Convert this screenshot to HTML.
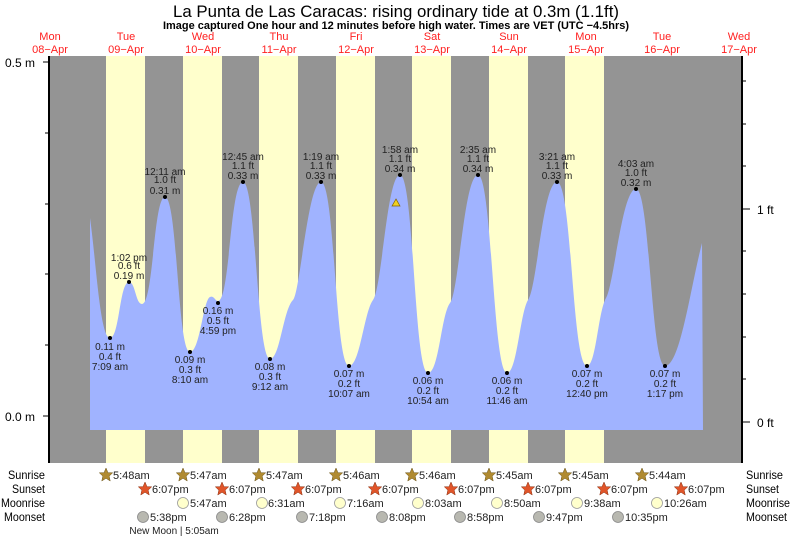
<!DOCTYPE html>
<html><head><meta charset="utf-8"><style>
body{margin:0;background:#fff;}
svg{display:block;font-family:"Liberation Sans",sans-serif;}
</style></head><body>
<svg width="793" height="537" viewBox="0 0 793 537" xmlns="http://www.w3.org/2000/svg">
<text x="173" y="17" font-size="16.5" textLength="446" lengthAdjust="spacingAndGlyphs" fill="#000">La Punta de Las Caracas: rising  ordinary tide at 0.3m (1.1ft)</text>
<text x="163" y="29" font-size="11" font-weight="bold" textLength="466" lengthAdjust="spacingAndGlyphs" fill="#000">Image captured One hour and 12 minutes before high water. Times are VET (UTC −4.5hrs)</text>
<g fill="#ff2020" font-size="11" text-anchor="middle">
<text x="50" y="40">Mon</text><text x="50" y="53">08−Apr</text>
<text x="126" y="40">Tue</text><text x="126" y="53">09−Apr</text>
<text x="203" y="40">Wed</text><text x="203" y="53">10−Apr</text>
<text x="279" y="40">Thu</text><text x="279" y="53">11−Apr</text>
<text x="356" y="40">Fri</text><text x="356" y="53">12−Apr</text>
<text x="432" y="40">Sat</text><text x="432" y="53">13−Apr</text>
<text x="509" y="40">Sun</text><text x="509" y="53">14−Apr</text>
<text x="586" y="40">Mon</text><text x="586" y="53">15−Apr</text>
<text x="662" y="40">Tue</text><text x="662" y="53">16−Apr</text>
<text x="739" y="40">Wed</text><text x="739" y="53">17−Apr</text>
</g>
<rect x="50" y="56" width="692" height="407" fill="#949494"/>
<g fill="#ffffcc">
<rect x="106" y="56" width="39" height="407"/>
<rect x="183" y="56" width="39" height="407"/>
<rect x="259" y="56" width="39" height="407"/>
<rect x="336" y="56" width="39" height="407"/>
<rect x="412" y="56" width="39" height="407"/>
<rect x="489" y="56" width="39" height="407"/>
<rect x="565" y="56" width="39" height="407"/>
</g>
<path fill="#a0b3ff" d="M90,430 L90,218 C96,260 100,338 110,338 C119.5,338 119.5,282 129,282 C135.5,282 135.5,304 142,304 C153.5,304 153.5,197 165,197 C177.5,197 177.5,352 190,352 C200,352 203,300 210,297 C214,295 215,301 218,301 C230,301 230,182 243,182 C256,182 257,359 270,359 C280,359 283,310 293,300 C300,293 308,182 321,182 C335,182 335,366 349,366 C360,366 364,312 373,300 C382,288 387,175 400,175 C414,175 414,373 428,373 C439,373 441,315 450,303 C459,292 464,175 478,175 C492,175 493,373 507,373 C517,373 520,313 528,300 C537,288 543,182 557,182 C572,182 572,366 587,366 C596,366 598,312 606,298 C614,285 622,189 636,189 C650,189 651,366 665,366 C680,366 690,290 702,243 L703,430 Z"/>
<polygon points="396,199 392,206 400,206" fill="#f0d020" stroke="#806000" stroke-width="0.7"/>
<line x1="49" y1="56" x2="49" y2="463" stroke="#000" stroke-width="2"/>
<line x1="742" y1="56" x2="742" y2="463" stroke="#000" stroke-width="2"/>
<g stroke="#000" stroke-width="1">
<line x1="43" y1="62" x2="49" y2="62"/><line x1="45" y1="133" x2="49" y2="133"/><line x1="45" y1="204" x2="49" y2="204"/><line x1="45" y1="274" x2="49" y2="274"/><line x1="45" y1="345" x2="49" y2="345"/><line x1="43" y1="416" x2="49" y2="416"/>
<line x1="742" y1="422" x2="750" y2="422"/><line x1="742" y1="379" x2="746" y2="379"/><line x1="742" y1="337" x2="746" y2="337"/><line x1="742" y1="294" x2="746" y2="294"/><line x1="742" y1="251" x2="746" y2="251"/><line x1="742" y1="209" x2="750" y2="209"/><line x1="742" y1="166" x2="746" y2="166"/><line x1="742" y1="124" x2="746" y2="124"/><line x1="742" y1="81" x2="746" y2="81"/>
</g>
<g font-size="12" fill="#000">
<text x="5" y="67">0.5 m</text><text x="5" y="421">0.0 m</text>
<text x="757" y="214">1 ft</text><text x="757" y="427">0 ft</text>
</g>
<g fill="#000">
<circle cx="110" cy="338" r="2"/><circle cx="129" cy="282" r="2"/><circle cx="165" cy="197" r="2"/><circle cx="190" cy="352" r="2"/><circle cx="218" cy="303" r="2"/><circle cx="243" cy="182" r="2"/><circle cx="270" cy="359" r="2"/><circle cx="321" cy="182" r="2"/><circle cx="349" cy="366" r="2"/><circle cx="400" cy="175" r="2"/><circle cx="428" cy="373" r="2"/><circle cx="478" cy="175" r="2"/><circle cx="507" cy="373" r="2"/><circle cx="557" cy="182" r="2"/><circle cx="587" cy="366" r="2"/><circle cx="636" cy="189" r="2"/><circle cx="665" cy="366" r="2"/>
</g>
<g font-size="10" fill="#222" text-anchor="middle">
<text x="110" y="350">0.11 m</text><text x="110" y="360">0.4 ft</text><text x="110" y="370">7:09 am</text>
<text x="129" y="261">1:02 pm</text><text x="129" y="269">0.6 ft</text><text x="129" y="279">0.19 m</text>
<text x="165" y="175">12:11 am</text><text x="165" y="183">1.0 ft</text><text x="165" y="194">0.31 m</text>
<text x="190" y="363">0.09 m</text><text x="190" y="373">0.3 ft</text><text x="190" y="383">8:10 am</text>
<text x="218" y="314">0.16 m</text><text x="218" y="324">0.5 ft</text><text x="218" y="334">4:59 pm</text>
<text x="243" y="160">12:45 am</text><text x="243" y="169">1.1 ft</text><text x="243" y="179">0.33 m</text>
<text x="270" y="370">0.08 m</text><text x="270" y="380">0.3 ft</text><text x="270" y="390">9:12 am</text>
<text x="321" y="160">1:19 am</text><text x="321" y="169">1.1 ft</text><text x="321" y="179">0.33 m</text>
<text x="349" y="377">0.07 m</text><text x="349" y="387">0.2 ft</text><text x="349" y="397">10:07 am</text>
<text x="400" y="153">1:58 am</text><text x="400" y="162">1.1 ft</text><text x="400" y="172">0.34 m</text>
<text x="428" y="384">0.06 m</text><text x="428" y="394">0.2 ft</text><text x="428" y="404">10:54 am</text>
<text x="478" y="153">2:35 am</text><text x="478" y="162">1.1 ft</text><text x="478" y="172">0.34 m</text>
<text x="507" y="384">0.06 m</text><text x="507" y="394">0.2 ft</text><text x="507" y="404">11:46 am</text>
<text x="557" y="160">3:21 am</text><text x="557" y="169">1.1 ft</text><text x="557" y="179">0.33 m</text>
<text x="587" y="377">0.07 m</text><text x="587" y="387">0.2 ft</text><text x="587" y="397">12:40 pm</text>
<text x="636" y="167">4:03 am</text><text x="636" y="176">1.0 ft</text><text x="636" y="186">0.32 m</text>
<text x="665" y="377">0.07 m</text><text x="665" y="387">0.2 ft</text><text x="665" y="397">1:17 pm</text>
</g>
<g font-size="12" fill="#000" lengthAdjust="spacingAndGlyphs">
<text x="8" y="479" textLength="37" lengthAdjust="spacingAndGlyphs">Sunrise</text><text x="12" y="493" textLength="33" lengthAdjust="spacingAndGlyphs">Sunset</text><text x="1" y="507" textLength="44" lengthAdjust="spacingAndGlyphs">Moonrise</text><text x="4" y="521" textLength="41" lengthAdjust="spacingAndGlyphs">Moonset</text>
<text x="746" y="479" textLength="37" lengthAdjust="spacingAndGlyphs">Sunrise</text><text x="746" y="493" textLength="33" lengthAdjust="spacingAndGlyphs">Sunset</text><text x="746" y="507" textLength="44" lengthAdjust="spacingAndGlyphs">Moonrise</text><text x="746" y="521" textLength="41" lengthAdjust="spacingAndGlyphs">Moonset</text>
</g>
<defs>
<polygon id="st" points="0,-7 2,-2.3 6.7,-2.2 3.2,1.1 4.2,6 0,3.3 -4.2,6 -3.2,1.1 -6.7,-2.2 -2,-2.3"/>
</defs>
<g fill="#b08a30" stroke="#6a5418" stroke-width="0.5">
<use href="#st" x="106" y="475"/><use href="#st" x="183" y="475"/><use href="#st" x="259" y="475"/><use href="#st" x="336" y="475"/><use href="#st" x="412" y="475"/><use href="#st" x="489" y="475"/><use href="#st" x="565" y="475"/><use href="#st" x="642" y="475"/>
</g>
<g fill="#e0552a" stroke="#8a3010" stroke-width="0.5">
<use href="#st" x="145" y="489"/><use href="#st" x="222" y="489"/><use href="#st" x="298" y="489"/><use href="#st" x="375" y="489"/><use href="#st" x="451" y="489"/><use href="#st" x="528" y="489"/><use href="#st" x="604" y="489"/><use href="#st" x="681" y="489"/>
</g>
<g font-size="11" fill="#222">
<text x="113" y="479">5:48am</text><text x="190" y="479">5:47am</text><text x="266" y="479">5:47am</text><text x="343" y="479">5:46am</text><text x="419" y="479">5:46am</text><text x="496" y="479">5:45am</text><text x="572" y="479">5:45am</text><text x="649" y="479">5:44am</text>
<text x="152" y="493">6:07pm</text><text x="229" y="493">6:07pm</text><text x="305" y="493">6:07pm</text><text x="382" y="493">6:07pm</text><text x="458" y="493">6:07pm</text><text x="535" y="493">6:07pm</text><text x="611" y="493">6:07pm</text><text x="688" y="493">6:07pm</text>
</g>
<g fill="#ffffcc" stroke="#999" stroke-width="0.8">
<circle cx="183" cy="503" r="5.5"/><circle cx="262" cy="503" r="5.5"/><circle cx="340" cy="503" r="5.5"/><circle cx="418" cy="503" r="5.5"/><circle cx="497" cy="503" r="5.5"/><circle cx="577" cy="503" r="5.5"/><circle cx="657" cy="503" r="5.5"/>
</g>
<g fill="#b8b8b0" stroke="#888" stroke-width="0.8">
<circle cx="143" cy="517" r="5.5"/><circle cx="222" cy="517" r="5.5"/><circle cx="302" cy="517" r="5.5"/><circle cx="382" cy="517" r="5.5"/><circle cx="460" cy="517" r="5.5"/><circle cx="539" cy="517" r="5.5"/><circle cx="618" cy="517" r="5.5"/>
</g>
<g font-size="11" fill="#222">
<text x="190" y="507">5:47am</text><text x="268" y="507">6:31am</text><text x="347" y="507">7:16am</text><text x="425" y="507">8:03am</text><text x="504" y="507">8:50am</text><text x="584" y="507">9:38am</text><text x="664" y="507">10:26am</text>
<text x="150" y="521">5:38pm</text><text x="229" y="521">6:28pm</text><text x="309" y="521">7:18pm</text><text x="389" y="521">8:08pm</text><text x="467" y="521">8:58pm</text><text x="546" y="521">9:47pm</text><text x="625" y="521">10:35pm</text>
</g>
<text x="174" y="534" font-size="10" fill="#222" text-anchor="middle">New Moon | 5:05am</text>
</svg>
</body></html>
